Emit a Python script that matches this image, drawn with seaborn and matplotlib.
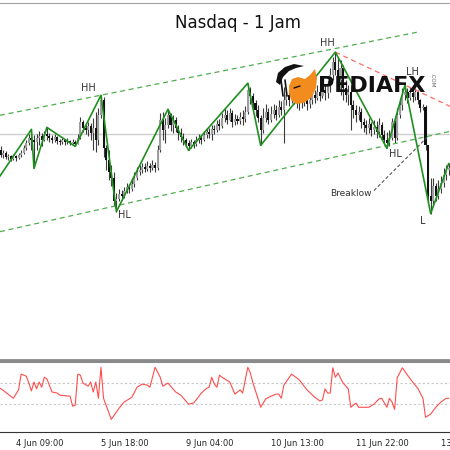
# Nasdaq 1h chart with zigzag swings, channel and oscillator panel
import matplotlib
matplotlib.use("Agg")
import matplotlib.pyplot as plt
import numpy as np
import pandas as pd
import seaborn as sns
from matplotlib.patches import Polygon

# ---- candles (hourly bars, open = previous close) ----
open0 = 9840
closes = [
    9820, 9828, 9812, 9816, 9804, 9816, 9808, 9820, 9828, 9848,
    9868, 9888, 9880, 9872, 9888, 9896, 9880, 9904, 9896, 9888,
    9880, 9892, 9876, 9872, 9880, 9872, 9876, 9868, 9872, 9864,
    9888, 9952, 9928, 9920, 9936, 9908, 9928, 9880, 9980, 10040,
    9848, 9800, 9752, 9728, 9640, 9648, 9668, 9660, 9680, 9696,
    9688, 9708, 9728, 9752, 9760, 9772, 9764, 9776, 9768, 9780,
    9768, 9840, 9960, 9920, 9940, 9980, 9940, 9960, 9928, 9908,
    9892, 9880, 9868, 9856, 9872, 9864, 9880, 9888, 9880, 9900,
    9912, 9904, 9924, 9920, 9944, 9936, 9968, 9980, 9960, 9988,
    9952, 9964, 9956, 9972, 9964, 9992, 10080, 10056, 10028, 10000,
    9968, 9920, 9968, 9992, 9960, 9984, 10000, 9980, 10012, 10000,
    10040, 10060, 10040, 10068, 10052, 10040, 10060, 10032, 10048, 10024,
    10040, 10060, 10048, 10072, 10056, 10080, 10068, 10096, 10140, 10192,
    10160, 10120, 10168, 10088, 10060, 10072, 10020, 10000, 9980, 9992,
    9952, 9940, 9928, 9944, 9920, 9932, 9912, 9940, 9900, 9880,
    9868, 9888, 9952, 9888, 9980, 10020, 10060, 10072, 10048, 10068,
    10052, 10072, 10040, 10008, 10012, 9860, 9660, 9640, 9700, 9660,
    9688, 9712, 9740, 9760, 9768,
]
highs = [
    9856, 9840, 9836, 9824, 9820, 9824, 9820, 9828, 9840, 9860,
    9880, 9904, 9924, 9900, 9904, 9916, 9908, 9916, 9932, 9908,
    9900, 9904, 9896, 9884, 9888, 9884, 9888, 9880, 9884, 9880,
    9904, 9972, 9960, 9944, 9952, 9948, 9968, 9992, 10008, 10060,
    10052, 9860, 9840, 9780, 9752, 9672, 9688, 9684, 9696, 9712,
    9708, 9728, 9752, 9772, 9780, 9788, 9788, 9796, 9788, 9800,
    9792, 9860, 9988, 9992, 9968, 10004, 9988, 9980, 9972, 9940,
    9928, 9908, 9888, 9880, 9884, 9880, 9896, 9904, 9900, 9916,
    9928, 9928, 9940, 9940, 9960, 9964, 9988, 10008, 10000, 10008,
    10000, 9984, 9980, 9992, 10000, 10016, 10108, 10092, 10068, 10040,
    10020, 9980, 10008, 10024, 10008, 10016, 10024, 10020, 10040, 10036,
    10092, 10088, 10080, 10096, 10088, 10072, 10080, 10072, 10068, 10060,
    10064, 10088, 10080, 10100, 10096, 10112, 10104, 10120, 10168, 10212,
    10232, 10208, 10200, 10180, 10120, 10100, 10100, 10040, 10020, 10016,
    10008, 9968, 9960, 9968, 9952, 9960, 9956, 9968, 9952, 9920,
    9912, 9920, 9968, 9960, 10008, 10048, 10088, 10100, 10088, 10092,
    10084, 10088, 10080, 10044, 10024, 10020, 9860, 9728, 9728, 9712,
    9720, 9736, 9768, 9780, 9788,
]
lows = [
    9812, 9808, 9804, 9800, 9796, 9800, 9796, 9804, 9812, 9824,
    9840, 9860, 9840, 9768, 9840, 9860, 9856, 9876, 9880, 9872,
    9868, 9872, 9864, 9860, 9864, 9860, 9864, 9860, 9864, 9856,
    9864, 9884, 9912, 9904, 9896, 9880, 9840, 9832, 9860, 9968,
    9812, 9760, 9720, 9700, 9620, 9596, 9640, 9644, 9652, 9672,
    9672, 9680, 9696, 9720, 9740, 9748, 9752, 9756, 9752, 9760,
    9752, 9760, 9832, 9880, 9868, 9928, 9916, 9908, 9912, 9880,
    9872, 9860, 9852, 9840, 9848, 9848, 9856, 9868, 9864, 9876,
    9888, 9888, 9880, 9904, 9912, 9920, 9928, 9952, 9944, 9956,
    9932, 9940, 9944, 9944, 9940, 9952, 9984, 10024, 10008, 9976,
    9952, 9860, 9908, 9952, 9944, 9952, 9968, 9960, 9972, 9980,
    9868, 10020, 10016, 10028, 10024, 10008, 10000, 10008, 10016, 10000,
    10008, 10024, 10028, 10040, 10036, 10048, 10040, 10048, 10072, 10120,
    10140, 10080, 10060, 10040, 10032, 10020, 9920, 9968, 9952, 9960,
    9928, 9912, 9904, 9908, 9896, 9904, 9888, 9892, 9880, 9864,
    9848, 9856, 9880, 9868, 9880, 9968, 10000, 10040, 10028, 10040,
    10032, 10040, 10024, 9992, 10000, 9840, 9640, 9588, 9620, 9640,
    9648, 9672, 9696, 9720, 9740,
]

# ---- zigzag swing points ----
zz_bars = [-4, 12, 13, 18, 29, 39, 45, 65, 73, 96, 101, 130, 150, 157, 167, 174]
zz_prices = [9680, 9924, 9768, 9932, 9856, 10060, 9596, 10004, 9840,
             10108, 9860, 10232, 9848, 10100, 9588, 9788]

# ---- trend lines ----
upper_bars = [-0.2, 162]
upper_prices = [9980, 10312]
lower_bars = [-0.2, 174.5]
lower_prices = [9516, 9916]
red_bars = [130, 174.5]
red_prices = [10232, 10016]
break_bars = [145, 165.6]
break_prices = [9680, 9892]
level_price = 9904

swing_labels = ["HH", "HL", "HH", "LH", "HL", "L"]
swing_bars = [34, 48, 127, 160, 153.5, 164]
swing_prices = [10088, 9584, 10268, 10152, 9824, 9560]

# ---- oscillator ----
osc_bars = [0, 5, 7, 8, 10, 11, 12, 13, 14, 15, 16, 17, 18, 20, 22, 23, 27, 28, 29,
            30, 31, 32, 34, 35, 36, 37, 38, 39, 40, 43, 46, 48, 51, 53, 55, 57, 58,
            60, 62, 63, 65, 68, 70, 73, 75, 78, 80, 81, 82, 83, 84, 85, 86, 89, 91,
            93, 94, 96, 97, 98, 100, 101, 103, 105, 107, 108, 109, 110, 113, 116,
            119, 122, 124, 125, 126, 127, 128, 129, 130, 131, 133, 135, 136, 138,
            139, 141, 143, 145, 147, 148, 150, 151, 152, 153, 154, 156, 158, 160,
            162, 164, 165, 167, 169, 171, 173, 174]
osc_values = [60, 41, 57, 87, 83, 70, 55, 72, 59, 72, 62, 81, 78, 53, 51, 47, 45, 26, 28,
              87, 85, 70, 64, 72, 53, 72, 41, 100, 41, 1, 22, 34, 43, 62, 68, 66, 62,
              100, 81, 64, 70, 53, 47, 30, 32, 51, 60, 62, 81, 68, 62, 85, 81, 72, 49,
              57, 51, 100, 89, 70, 40, 24, 40, 45, 49, 49, 41, 66, 87, 76,
              57, 43, 36, 38, 59, 51, 51, 99, 81, 89, 70, 59, 24, 32,
              24, 24, 24, 30, 40, 41, 24, 41, 34, 20, 80, 99, 85, 72,
              60, 41, 5, 11, 24, 34, 41, 41]
osc_levels = [70, 30]

tick_bars = [6, 39, 72, 105, 138, 171]
tick_labels = ["4 Jun 09:00", "5 Jun 18:00", "9 Jun 04:00",
               "10 Jun 13:00", "11 Jun 22:00", "13 Jun 07:00"]

sns.set_style("white")
plt.rcParams["font.family"] = ["DejaVu Sans"]

df = pd.DataFrame({"close": closes, "high": highs, "low": lows})
df["open"] = [open0] + closes[:-1]
df["bar"] = np.arange(len(df))
bull = df["close"] >= df["open"]

fig = plt.figure(figsize=(4.5, 4.5), dpi=100)
W, H = 450.0, 450.0
ax = fig.add_axes([0, 1 - 360 / H, 1, 357 / H])
ax2 = fig.add_axes([0, 1 - 432 / H, 1, 70 / H])

# main panel
ax.axhline(level_price, color="#cfcfcf", lw=1, zorder=1)
ax.vlines(df["bar"], df["low"], df["high"], color="#3c3c3c", lw=0.8, zorder=2)
body_low = np.minimum(df["open"], df["close"])
body_h = np.maximum(np.abs(df["close"] - df["open"]), 3)
ax.bar(df["bar"], body_h, bottom=body_low, width=0.8,
       color=np.where(bull, "#9e9e9e", "#111111"), linewidth=0, zorder=3)

ax.plot(upper_bars, upper_prices, color="#4fae4f", lw=0.9, dashes=[4, 3], zorder=4)
ax.plot(lower_bars, lower_prices, color="#4fae4f", lw=0.9, dashes=[4, 3], zorder=4)
ax.plot(red_bars, red_prices, color="#ff6b6b", lw=0.9, dashes=[4, 3], zorder=4)
ax.plot(break_bars, break_prices, color="#555555", lw=0.8, dashes=[3, 2], zorder=4)
sns.lineplot(x=zz_bars, y=zz_prices, ax=ax, color="#1f8f1f", lw=1.2,
             sort=False, zorder=5)

for lab, b, p in zip(swing_labels, swing_bars, swing_prices):
    ax.text(b, p, lab, fontsize=7, color="#333333", ha="center", va="center",
            zorder=6)
ax.text(144.2, 9668, "Breaklow", fontsize=6.5, color="#333333", ha="right",
        va="center", zorder=6)

ax.set_xlim(-0.2, 174.5)
ax.set_ylim(9004, 10428)
ax.set_xticks([])
ax.set_yticks([])
ax.set_xlabel("")
ax.set_ylabel("")
for s in ["left", "right"]:
    ax.spines[s].set_visible(False)
ax.spines["top"].set_color("#a0a0a0")
ax.spines["bottom"].set_color("#8a8a8a")
ax.spines["bottom"].set_linewidth(2)

# oscillator panel
for lv in osc_levels:
    ax2.axhline(lv, color="#c8c8c8", lw=0.8, dashes=[2, 2])
sns.lineplot(x=osc_bars, y=osc_values, ax=ax2, color="#ff4d4d", lw=0.8)
ax2.set_xlim(-0.2, 174.5)
ax2.set_ylim(-23, 110)
ax2.set_yticks([])
ax2.set_xticks(tick_bars)
ax2.set_xticklabels(tick_labels, fontsize=6, ha="left")
ax2.tick_params(axis="x", length=3, width=0.8, color="#333333", pad=2)
for s in ["left", "right"]:
    ax2.spines[s].set_visible(False)
ax2.spines["top"].set_color("#8a8a8a")
ax2.spines["top"].set_linewidth(1.5)
ax2.spines["bottom"].set_color("#333333")
ax2.set_xlabel("")
ax2.set_ylabel("")

fig.text(238 / W, 1 - 23 / H, "Nasdaq - 1 Jam", fontsize=12, ha="center",
         va="center", color="#111111")

# logo
lg = fig.add_axes([270 / W, 1 - 115 / H, 170 / W, 60 / H])
lg.set_xlim(270, 440)
lg.set_ylim(115, 55)
lg.axis("off")
lg.patch.set_alpha(0)
lg.add_patch(Polygon([(289, 86), (292, 79), (298, 77), (305, 79), (310, 75),
                      (315, 69), (317, 78), (316, 88), (312, 97), (304, 103),
                      (296, 104), (291, 100), (289, 93)], closed=True,
                     color="#f28c1e", lw=0))
lg.add_patch(Polygon([(276, 82), (278, 73), (285, 67), (294, 64), (304, 66),
                      (296, 68), (289, 71), (283, 77), (280, 85)], closed=True,
                     color="#111111", lw=0))
for x0 in [281, 285]:
    lg.plot([x0, x0 + 2], [80, 96], color="#111111", lw=1.2)
lg.plot([294, 300], [88, 86], color="#111111", lw=1.0)
lg.text(318, 86, "PEDIAFX", fontsize=16, fontweight="bold", color="#111111",
        ha="left", va="center")
lg.text(432, 80, ".COM", fontsize=4, color="#666666", rotation=-90,
        ha="center", va="center")

fig.savefig("out.png", dpi=100)
plt.close(fig)
